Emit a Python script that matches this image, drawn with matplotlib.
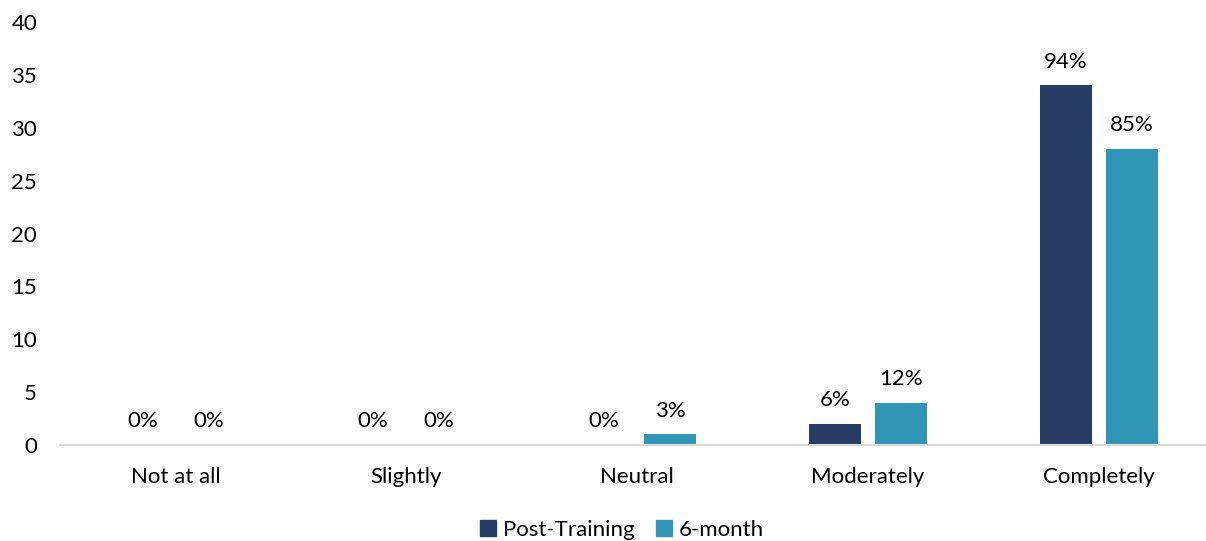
import matplotlib
matplotlib.use("Agg")
import matplotlib.pyplot as plt
import numpy as np
from matplotlib.patches import Patch

categories = ["Not at all", "Slightly", "Neutral", "Moderately", "Completely"]
post_training = [0, 0, 0, 2, 34]
six_month = [0, 0, 1, 4, 28]
post_labels = ["0%", "0%", "0%", "6%", "94%"]
six_labels = ["0%", "0%", "3%", "12%", "85%"]
yticks = [0, 5, 10, 15, 20, 25, 30, 35, 40]
series_names = ["Post-Training", "6-month"]

c_post = "#263D66"
c_six = "#3196B5"

plt.rcParams['font.family'] = ['Lato', 'DejaVu Sans']
FS = 16

fig = plt.figure(figsize=(12.06, 5.41), dpi=100)
ax = fig.add_axes([60/1206, 96/541, (1214-60)/1206, (445-22)/541])

x = np.arange(len(categories))
w = 0.225
off = 0.143
b1 = ax.bar(x - off, post_training, w, color=c_post)
b2 = ax.bar(x + off, six_month, w, color=c_six)

for bars, labs in ((b1, post_labels), (b2, six_labels)):
    for b, lab in zip(bars, labs):
        ax.annotate(lab, (b.get_x() + b.get_width()/2, b.get_height()),
                    xytext=(0, 10), textcoords="offset points",
                    ha="center", va="bottom", fontsize=FS, color="#000000")

ax.set_xlim(-0.5, 4.5)
ax.set_ylim(0, 40)
ax.set_yticks(yticks)
ax.set_yticklabels([str(t) for t in yticks], fontsize=FS)
ax.set_xticks(x)
ax.set_xticklabels(categories, fontsize=FS)
ax.tick_params(axis='y', length=0, pad=16.5)
ax.tick_params(axis='x', length=0, pad=16)
for s in ["top", "right", "left"]:
    ax.spines[s].set_visible(False)
ax.spines["bottom"].set_color("#D9D9D9")
ax.spines["bottom"].set_linewidth(1.5)

handles = [Patch(color=c_post), Patch(color=c_six)]
fig.legend(handles, series_names, loc="center", bbox_to_anchor=(622/1206, 1 - 530/541),
           ncol=2, frameon=False, fontsize=FS, handlelength=0.7, handleheight=0.7,
           handletextpad=0.3, columnspacing=1.0)

fig.savefig("out.png", dpi=100)
